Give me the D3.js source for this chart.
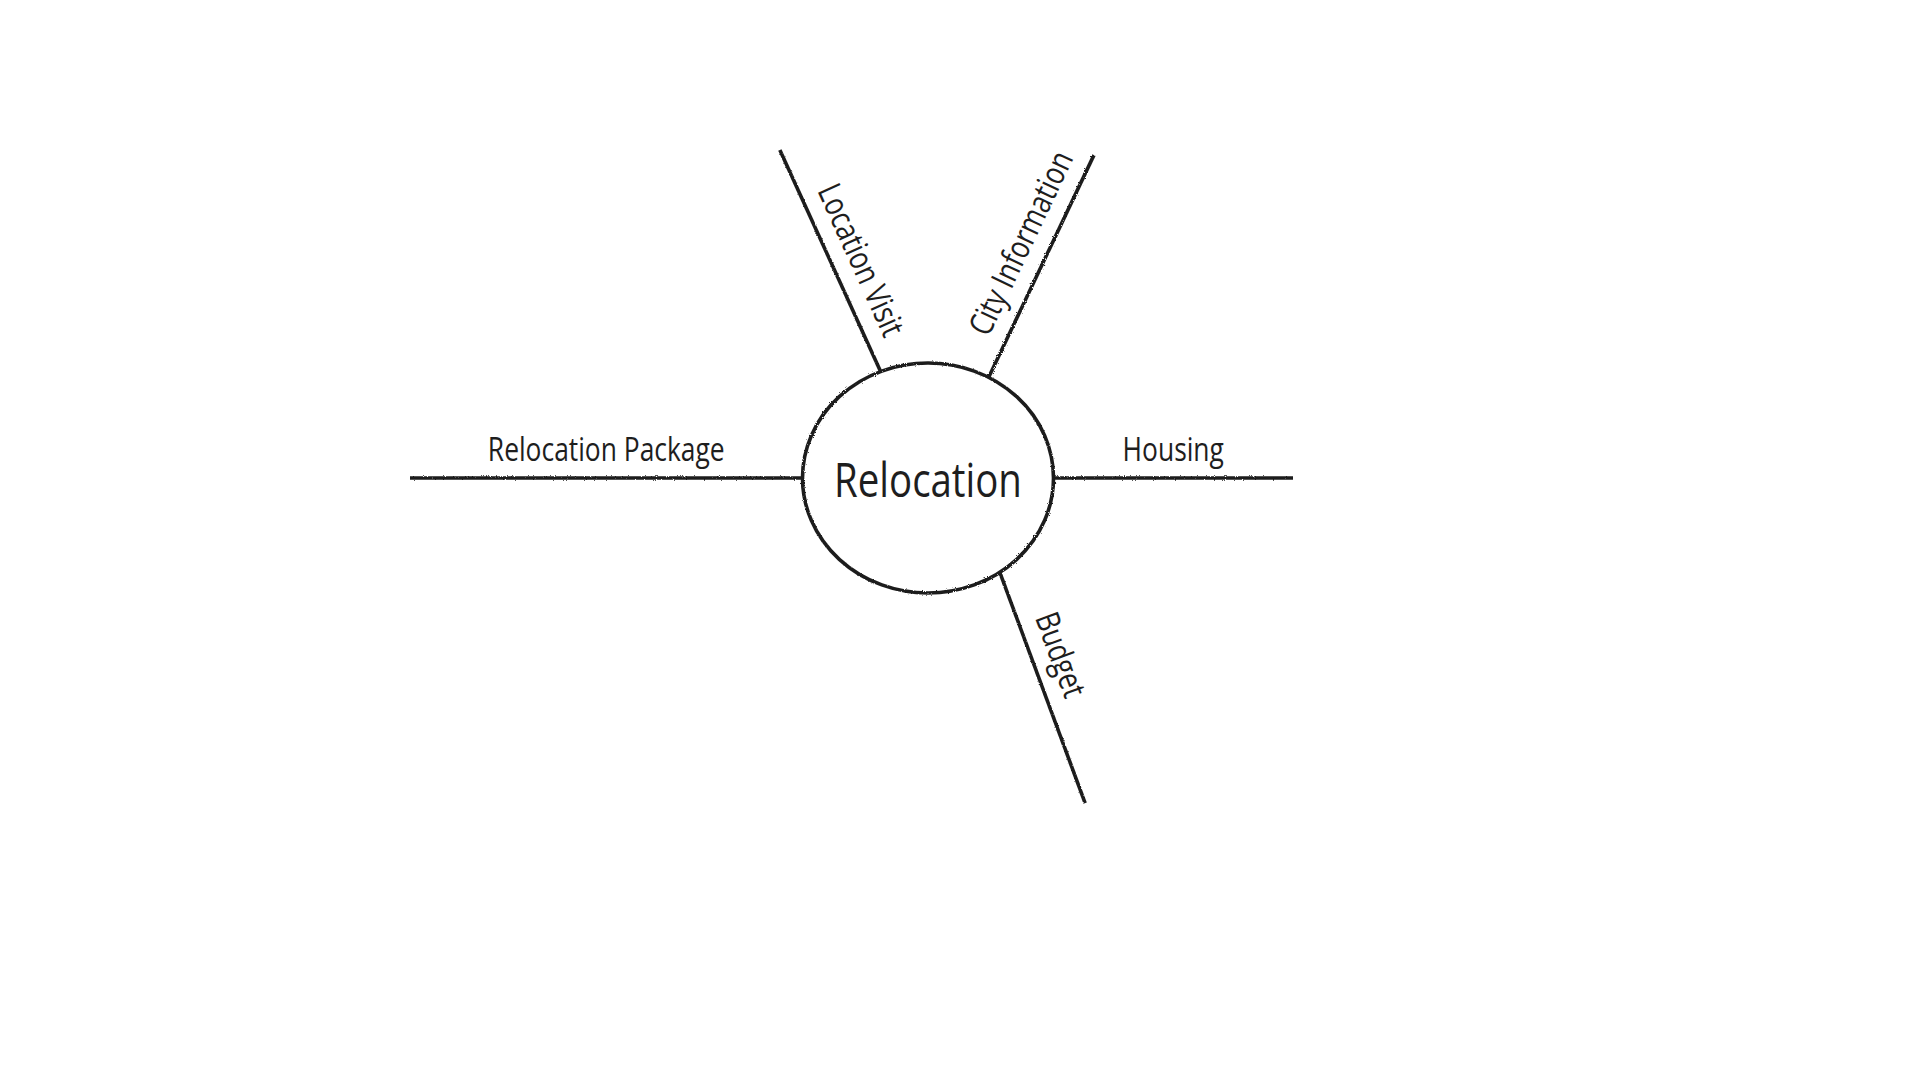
<!DOCTYPE html>
<html><head><meta charset="utf-8">
<script src="https://cdn.jsdelivr.net/npm/d3@7"></script>
<style>html,body{margin:0;background:#fff;overflow:hidden}</style>
</head><body><svg id="c" width="1920" height="1080"></svg>
<script>
// ---- data ----
const centerLabel = "Relocation";
const branchLabels = ["Location Visit", "City Information", "Housing", "Budget", "Relocation Package"];
const startAngles = [-114, -58.9, 0, 52.7, 180];          // where each branch leaves the ellipse (deg)
const endAngles = [-114.3, -62.8, 0, 64.2, 180];          // direction of branch end from centre (deg)
const endDistances = [360, 363, 365, 361, 518];           // distance of branch end from centre
const labelFractions = [0.45, 0.55, 0.5, 0.40, 0.5];      // label centre along each branch segment

// ---- layout ----
const W = 1920, H = 1080;
const cx = 928, cy = 478, rx = 125.5, ry = 115;
const ink = "#1e1e1e";

const svg = d3.select("#c").attr("viewBox", [0, 0, W, H]);
const defs = svg.append("defs");
const f = defs.append("filter").attr("id", "rough").attr("x", "-5%").attr("y", "-5%").attr("width", "110%").attr("height", "110%");
f.append("feTurbulence").attr("type", "fractalNoise").attr("baseFrequency", 0.9).attr("numOctaves", 2).attr("seed", 4).attr("result", "n");
f.append("feDisplacementMap").attr("in", "SourceGraphic").attr("in2", "n").attr("scale", 2.6);

const rScale = d3.scaleLinear().domain([0, d3.max(endDistances)]).range([0, d3.max(endDistances)]);
const rad = d => d * Math.PI / 180;
function ellipseR(a) {
  const c = Math.cos(a), s = Math.sin(a);
  return 1 / Math.sqrt(c * c / (rx * rx) + s * s / (ry * ry));
}

const branches = branchLabels.map((label, i) => {
  const a0 = rad(startAngles[i]), a1 = rad(endAngles[i]);
  const r0 = ellipseR(a0), r1 = rScale(endDistances[i]);
  const x0 = cx + r0 * Math.cos(a0), y0 = cy + r0 * Math.sin(a0);
  const x1 = cx + r1 * Math.cos(a1), y1 = cy + r1 * Math.sin(a1);
  const t = labelFractions[i];
  let rot = Math.atan2(y1 - y0, x1 - x0) * 180 / Math.PI;
  if (rot > 90) rot -= 180;
  if (rot <= -90) rot += 180;
  return { label, x0, y0, x1, y1, rot, lx: x0 + (x1 - x0) * t, ly: y0 + (y1 - y0) * t };
});

const g = svg.append("g");
g.append("g").attr("filter", "url(#rough)")
  .selectAll("line").data(branches).join("line")
  .attr("x1", d => d.x0).attr("y1", d => d.y0)
  .attr("x2", d => d.x1).attr("y2", d => d.y1)
  .attr("stroke", ink).attr("stroke-width", 3.6).attr("stroke-linecap", "butt");

g.append("ellipse").attr("filter", "url(#rough)")
  .attr("cx", cx).attr("cy", cy).attr("rx", rx).attr("ry", ry)
  .attr("fill", "none").attr("stroke", ink).attr("stroke-width", 3.6);

const font = "'Open Sans', 'Noto Sans', sans-serif";
g.selectAll("g.lab").data(branches).join("g").attr("class", "lab")
  .attr("transform", d => `translate(${d.lx},${d.ly}) rotate(${d.rot}) scale(0.8,1)`)
  .append("text")
  .attr("x", 0).attr("y", -17)
  .attr("text-anchor", "middle")
  .attr("font-family", font).attr("font-size", 33).attr("fill", ink)
  .text(d => d.label);

g.append("g").attr("transform", `translate(${cx},${cy + 19}) scale(0.8,1)`)
  .append("text").attr("text-anchor", "middle")
  .attr("font-family", font).attr("font-size", 48).attr("fill", ink)
  .text(centerLabel);
</script></body></html>
